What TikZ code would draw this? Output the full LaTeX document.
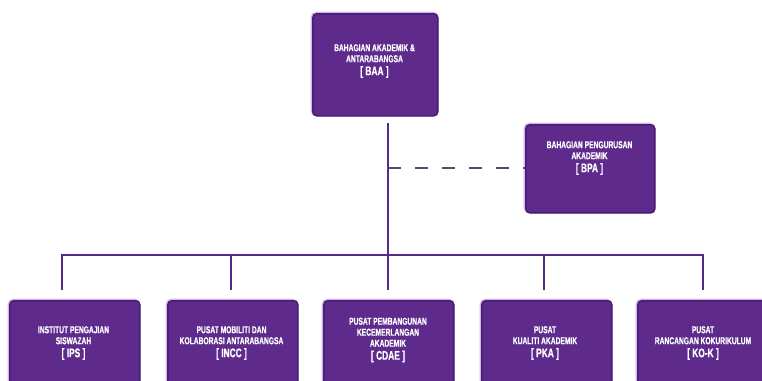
\documentclass[tikz,border=0pt]{standalone}
\usepackage{fontspec}
\newfontfamily\boxfont[FakeStretch=0.67, FakeBold=0.6]{Liberation Sans Bold}
\definecolor{boxfill}{RGB}{94,42,140}
\definecolor{boxedge}{RGB}{72,30,112}
\definecolor{boxglow}{RGB}{214,180,236}
\definecolor{linkcol}{RGB}{82,42,140}
\definecolor{dashcol}{RGB}{92,72,112}
\newcommand{\abbrtext}[1]{{\fontsize{12.5}{12.5}\selectfont #1}}
\begin{document}
\begin{tikzpicture}[x=1pt,y=-1pt,
  unitbox/.style={draw=boxedge, fill=boxfill, line width=1.6pt, rounded corners=4pt},
  glowbox/.style={draw=boxglow, line width=3pt, rounded corners=5pt},
  unittext/.style={text=white, font=\boxfont\fontsize{10}{11}\selectfont, align=center, inner sep=0pt},
  link/.style={draw=linkcol, line width=2.4pt},
  dashlink/.style={draw=dashcol, line width=2.4pt, dash pattern=on 13pt off 14pt}]
\useasboundingbox (0,0) rectangle (762,380);
\clip (0,0) rectangle (762,380);
\fill[white] (0,0) rectangle (762,380);

% boxes
\draw[glowbox] (312,13) rectangle (437,115);
\node[unitbox, minimum width=125pt, minimum height=102pt, anchor=north west] (baa) at (312,13) {};
\draw[glowbox] (525,124) rectangle (654,212);
\node[unitbox, minimum width=129pt, minimum height=88pt, anchor=north west] (bpa) at (525,124) {};

\foreach \nm/\xl in {ips/9, incc/167, cdae/323, pka/481, kok/637}{
  \draw[glowbox] (\xl,300) rectangle (\xl+130,390);
  \node[unitbox, minimum width=130pt, minimum height=90pt, anchor=north west] (\nm) at (\xl,300) {};
}

% texts
\node[unittext] (baat) at (374.5,61) {BAHAGIAN AKADEMIK \&\\ANTARABANGSA\\[2pt]\abbrtext{[ BAA ]}};
\node[unittext] (bpat) at (589.5,158) {BAHAGIAN PENGURUSAN\\AKADEMIK\\[2pt]\abbrtext{[ BPA ]}};
\node[unittext] (ipst) at (73.5,343) {INSTITUT PENGAJIAN\\SISWAZAH\\[2pt]\abbrtext{[ IPS ]}};
\node[unittext] (incct) at (231.5,343) {PUSAT MOBILITI DAN\\KOLABORASI ANTARABANGSA\\[2pt]\abbrtext{[ INCC ]}};
\node[unittext] (cdaet) at (388,340) {PUSAT PEMBANGUNAN\\KECEMERLANGAN\\AKADEMIK\\[2pt]\abbrtext{[ CDAE ]}};
\node[unittext] (pkat) at (545,343) {PUSAT\\KUALITI AKADEMIK\\[2pt]\abbrtext{[ PKA ]}};
\node[unittext] (kokt) at (703,343) {PUSAT\\RANCANGAN KOKURIKULUM\\[2pt]\abbrtext{[ KO-K ]}};

% connector points
\coordinate (stemtop) at (388,123);
\coordinate (junction) at (388,255);
\coordinate (dashstart) at (388,168);
\coordinate (barleft) at (62,255);
\coordinate (barright) at (703,255);
\coordinate (dips) at (62,290);
\coordinate (dincc) at (231,290);
\coordinate (dcdae) at (388,290);
\coordinate (dpka) at (544,290);
\coordinate (dkok) at (703,290);

\draw[link] (stemtop) -- (junction);
\draw[link] (dips) -- (barleft) -- (barright) -- (dkok);
\draw[link] (junction -| dincc) -- (dincc);
\draw[link] (junction) -- (dcdae);
\draw[link] (junction -| dpka) -- (dpka);
\draw[dashlink] (dashstart) -- (dashstart -| bpa.west);
\end{tikzpicture}
\end{document}
